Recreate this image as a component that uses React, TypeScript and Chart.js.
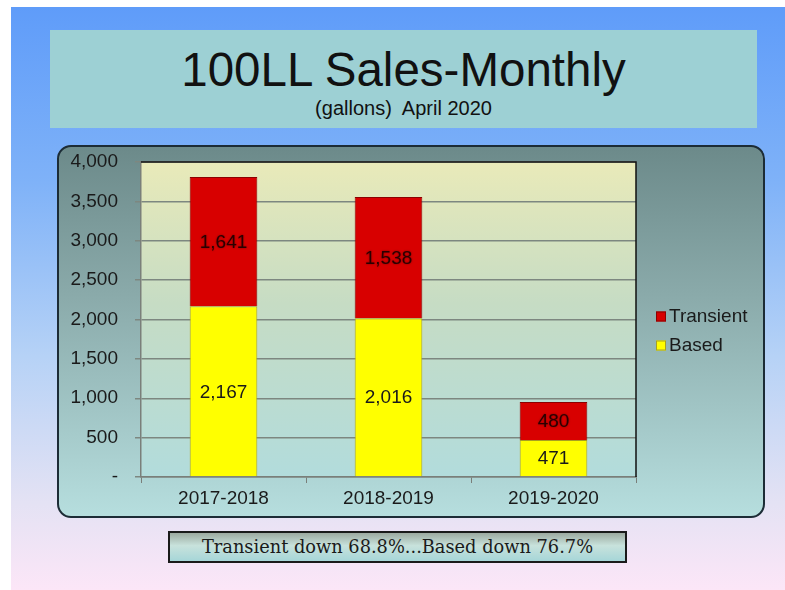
import React, { useEffect, useRef } from 'react';
import { Chart, registerables } from 'chart.js';

Chart.register(...registerables);

const categories = ['2017-2018', '2018-2019', '2019-2020'];
const basedValues = [2167, 2016, 471];
const transientValues = [1641, 1538, 480];
const seriesNames = ['Based', 'Transient'];
const seriesColors = ['#ffff00', '#d80000'];
const seriesBorders = ['#a8a020', '#8c0000'];
const labelColors = ['#1a1a1a', '#2a0000'];
const yMax = 4000;
const yStep = 500;
const titleText = '100LL Sales-Monthly';
const subtitleText = '(gallons)  April 2020';
const noteText = 'Transient down 68.8%...Based down 76.7%';

const fmt = (v: number) => (v === 0 ? '-' : v.toLocaleString('en-US'));

const plotBg = {
  id: 'plotBg',
  beforeDraw(chart: any) {
    const { ctx, chartArea: a } = chart;
    const g = ctx.createLinearGradient(0, a.top, 0, a.bottom);
    g.addColorStop(0, '#e9eab9');
    g.addColorStop(0.45, '#c6dcc4');
    g.addColorStop(1, '#b2dcdc');
    ctx.save();
    ctx.fillStyle = g;
    ctx.fillRect(a.left, a.top, a.right - a.left, a.bottom - a.top);
    ctx.restore();
  },
  afterDraw(chart: any) {
    const { ctx, chartArea: a } = chart;
    ctx.save();
    ctx.strokeStyle = '#111';
    ctx.lineWidth = 1.5;
    ctx.beginPath();
    ctx.moveTo(a.left, a.top);
    ctx.lineTo(a.right, a.top);
    ctx.lineTo(a.right, a.bottom);
    ctx.stroke();
    ctx.restore();
  },
};

const dataLabels = {
  id: 'dataLabels',
  afterDatasetsDraw(chart: any) {
    const { ctx } = chart;
    ctx.save();
    ctx.font = '19px "Liberation Sans", Arial, sans-serif';
    ctx.textAlign = 'center';
    ctx.textBaseline = 'middle';
    chart.data.datasets.forEach((ds: any, di: number) => {
      const meta = chart.getDatasetMeta(di);
      meta.data.forEach((bar: any, i: number) => {
        const v = ds.data[i];
        const y = (bar.y + bar.base) / 2;
        ctx.fillStyle = labelColors[di];
        if (di === 1) {
          ctx.shadowColor = 'rgba(60,0,0,0.6)';
          ctx.shadowBlur = 2;
        } else {
          ctx.shadowBlur = 0;
        }
        ctx.fillText(fmt(v), bar.x, y + 1);
      });
    });
    ctx.restore();
  },
};

const customLegend = {
  id: 'customLegend',
  afterDraw(chart: any) {
    const { ctx, chartArea: a } = chart;
    const x = a.right + 20;
    const midY = chart.height / 2;
    const items = [1, 0];
    ctx.save();
    ctx.font = '19px "Liberation Sans", Arial, sans-serif';
    ctx.textBaseline = 'middle';
    ctx.textAlign = 'left';
    items.forEach((di, k) => {
      const y = midY + (k === 0 ? -15 : 14);
      ctx.fillStyle = seriesColors[di];
      ctx.fillRect(x, y - 5, 10, 10);
      ctx.strokeStyle = seriesBorders[di];
      ctx.lineWidth = 1;
      ctx.strokeRect(x + 0.5, y - 4.5, 9, 9);
      ctx.fillStyle = '#1a1a1a';
      ctx.fillText(chart.data.datasets[di].label, x + 13, y);
    });
    ctx.restore();
  },
};

export default function App() {
  const ref = useRef<HTMLCanvasElement | null>(null);

  useEffect(() => {
    if (!ref.current) return;
    const chart = new Chart(ref.current, {
      type: 'bar',
      data: {
        labels: categories,
        datasets: [
          {
            label: seriesNames[0],
            data: basedValues,
            backgroundColor: seriesColors[0],
            borderColor: seriesBorders[0],
            borderWidth: 1,
            barPercentage: 0.41,
            categoryPercentage: 1,
          },
          {
            label: seriesNames[1],
            data: transientValues,
            backgroundColor: seriesColors[1],
            borderColor: seriesBorders[1],
            borderWidth: 1,
            barPercentage: 0.41,
            categoryPercentage: 1,
          },
        ],
      },
      options: {
        responsive: false,
        animation: false,
        layout: { padding: { top: 17, right: 129, bottom: 0, left: 0 } },
        plugins: {
          legend: { display: false },
          tooltip: { enabled: false },
          title: { display: false },
        },
        scales: {
          x: {
            stacked: true,
            grid: {
              drawOnChartArea: false,
              drawTicks: true,
              tickLength: 6,
              color: '#7a7f7a',
              offset: true,
            },
            border: { color: '#7a7f7a', width: 1.5 },
            ticks: {
              color: '#1a1a1a',
              padding: 4,
              font: { size: 19, family: '"Liberation Sans", Arial, sans-serif' },
            },
            afterFit(scale: any) {
              scale.height = 41;
              scale.paddingLeft = 0;
              scale.paddingRight = 0;
            },
          },
          y: {
            stacked: true,
            min: 0,
            max: yMax,
            ticks: {
              stepSize: yStep,
              color: '#1a1a1a',
              padding: 17,
              font: { size: 19, family: '"Liberation Sans", Arial, sans-serif' },
              callback: (v: any) => fmt(Number(v)),
            },
            grid: {
              color: '#7d8780',
              lineWidth: 1.5,
              tickLength: 6,
            },
            border: { color: '#7a7f7a', width: 1.5 },
            afterFit(scale: any) {
              scale.width = 84;
              scale.paddingTop = 0;
              scale.paddingBottom = 0;
            },
          },
        },
      },
      plugins: [plotBg, dataLabels, customLegend],
    } as any);
    return () => chart.destroy();
  }, []);

  return (
    <div
      style={{
        position: 'fixed',
        left: 0,
        top: 0,
        width: 785,
        height: 590,
        background: '#ffffff',
        overflow: 'hidden',
        fontFamily: '"Liberation Sans", Arial, sans-serif',
      }}
    >
      <div
        style={{
          position: 'absolute',
          left: 11,
          top: 7,
          width: 774,
          height: 583,
          background: 'linear-gradient(to bottom, #5f9cf9 0%, #7fb2f8 30%, #b6d2f6 60%, #e4e2f4 85%, #fce6f7 100%)',
        }}
      />
      <div
        style={{
          position: 'absolute',
          left: 50,
          top: 30,
          width: 707,
          height: 98,
          background: '#9dd0d4',
          textAlign: 'center',
          color: '#111',
        }}
      >
        <div style={{ position: 'absolute', left: 0, right: 0, top: 14, fontSize: 47.5, lineHeight: '52px' }}>
          {titleText}
        </div>
        <div style={{ position: 'absolute', left: 0, right: 0, top: 67, fontSize: 20, lineHeight: '22px', whiteSpace: 'pre' }}>
          {subtitleText}
        </div>
      </div>
      <div
        style={{
          position: 'absolute',
          left: 57,
          top: 145,
          width: 708,
          height: 373,
          boxSizing: 'border-box',
          border: '2px solid #1c2c36',
          borderRadius: 14,
          background: 'linear-gradient(to bottom, #6c8a8a 0%, #8aaaaa 40%, #b6dede 100%)',
        }}
      />
      <canvas
        ref={ref}
        width={708}
        height={373}
        style={{ position: 'absolute', left: 57, top: 145, width: 708, height: 373 }}
      />
      <div
        style={{
          position: 'absolute',
          left: 168,
          top: 531,
          width: 459,
          height: 32,
          boxSizing: 'border-box',
          border: '2px solid #1a1a1a',
          background: 'linear-gradient(to bottom, #9caaa0 0%, #c8e2dc 45%, #a6d6d8 100%)',
          textAlign: 'center',
          fontFamily: '"DejaVu Serif", "Liberation Serif", serif',
          fontSize: 17.8,
          lineHeight: '28px',
          color: '#1a1a1a',
          whiteSpace: 'nowrap',
        }}
      >
        {noteText}
      </div>
    </div>
  );
}
